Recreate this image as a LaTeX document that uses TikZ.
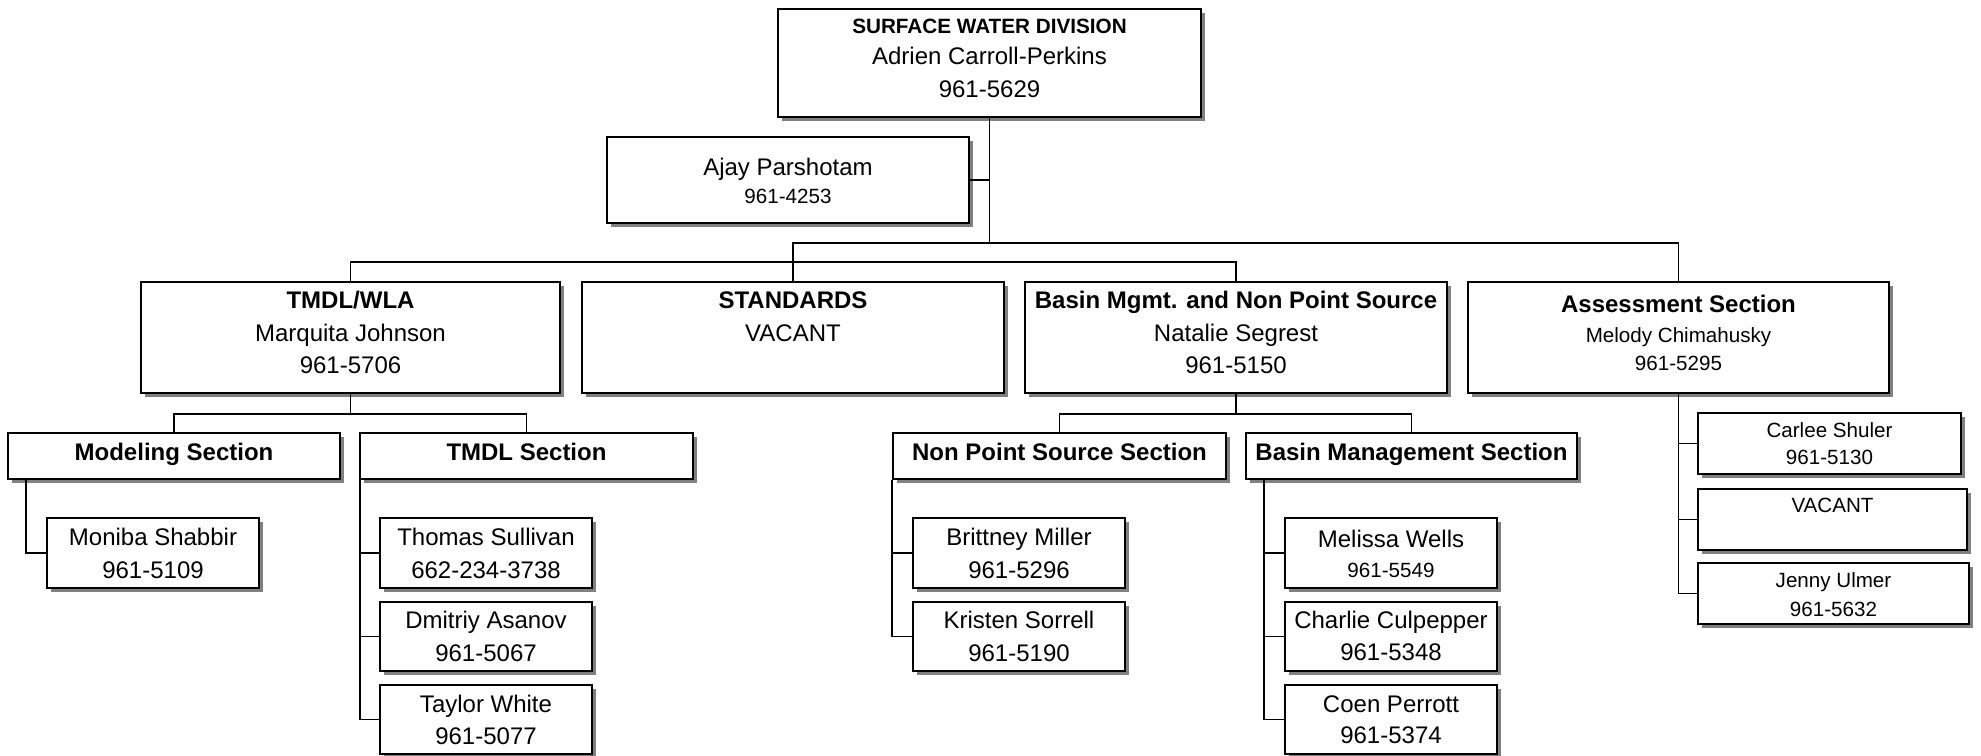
\documentclass[tikz,border=0pt]{standalone}
\usepackage{fontspec}
\setmainfont{Liberation Sans}
\usetikzlibrary{fit,shadows}
\definecolor{shadowgray}{HTML}{808080}
\tikzset{
  box/.style={draw=black, line width=0.85pt, fill=white, inner sep=0pt,
    drop shadow={shadow xshift=2pt, shadow yshift=-2pt, fill=shadowgray, opacity=1}},
  big/.style={anchor=base, inner sep=0pt, font=\fontsize{12}{14}\selectfont},
  bigb/.style={anchor=base, inner sep=0pt, font=\fontsize{12}{14}\selectfont\bfseries},
  small/.style={anchor=base, inner sep=0pt, font=\fontsize{10.3}{12}\selectfont},
  smallb/.style={anchor=base, inner sep=0pt, font=\fontsize{10.35}{12}\selectfont\bfseries},
  link/.style={draw=black, line width=0.85pt},
}
\newcommand\obox[5]{\node[box, fit={(#2,#3) (#4,#5)}] (#1) {};}
\newcommand\otxt[5]{\node[#2] (#1) at (#3,#4) {#5};}
\begin{document}
\begin{tikzpicture}[x=0.5pt, y=-0.5pt]
\useasboundingbox (0,0) rectangle (1981,755);

% ---------- boxes ----------
\obox{top}{778}{9}{1201}{117}
\obox{ajay}{607}{137}{969}{223}
\obox{tmdl}{141}{282}{560}{393}
\obox{std}{582}{282}{1004}{393}
\obox{basin}{1025}{282}{1447}{393}
\obox{assess}{1468}{282}{1889}{393}
\obox{model}{8}{433}{340}{479}
\obox{tmdlsec}{360}{433}{693}{479}
\obox{nps}{893}{433}{1226}{479}
\obox{bms}{1246}{433}{1577}{479}
\obox{moniba}{47}{518}{259}{588}
\obox{thomas}{380}{518}{592}{588}
\obox{dmitriy}{380}{602}{592}{671}
\obox{taylor}{380}{685}{592}{754}
\obox{brittney}{913}{518}{1125}{588}
\obox{kristen}{913}{602}{1125}{671}
\obox{melissa}{1285}{518}{1497}{588}
\obox{charlie}{1285}{602}{1497}{671}
\obox{coen}{1285}{685}{1497}{754}
\obox{carlee}{1698}{413}{1961}{474}
\obox{vacant}{1698}{489}{1967}{550}
\obox{jenny}{1698}{563}{1969}{624}

% ---------- texts ----------
\otxt{top1}{smallb}{989.5}{33}{SURFACE WATER DIVISION}
\otxt{top2}{big}{989.5}{64}{Adrien Carroll-Perkins}
\otxt{top3}{big}{989.5}{97}{961-5629}
\otxt{ajay1}{big}{788}{175}{Ajay Parshotam}
\otxt{ajay2}{small}{788}{203}{961-4253}
\otxt{tmdl1}{bigb}{350.5}{308}{TMDL/WLA}
\otxt{tmdl2}{big}{350.5}{341}{Marquita Johnson}
\otxt{tmdl3}{big}{350.5}{373}{961-5706}
\otxt{std1}{bigb}{793}{308}{STANDARDS}
\otxt{std2}{big}{793}{341}{VACANT}
\otxt{basin1}{bigb}{1236}{308}{Basin Mgmt. and Non Point Source}
\otxt{basin2}{big}{1236}{341}{Natalie Segrest}
\otxt{basin3}{big}{1236}{373}{961-5150}
\otxt{assess1}{bigb}{1678.5}{312}{Assessment Section}
\otxt{assess2}{small}{1678.5}{342}{Melody Chimahusky}
\otxt{assess3}{small}{1678.5}{370}{961-5295}
\otxt{model1}{bigb}{174}{460}{Modeling Section}
\otxt{tmdlsec1}{bigb}{526.5}{460}{TMDL Section}
\otxt{nps1}{bigb}{1059.5}{460}{Non Point Source Section}
\otxt{bms1}{bigb}{1411.5}{460}{Basin Management Section}
\otxt{moniba1}{big}{153}{545}{Moniba Shabbir}
\otxt{moniba2}{big}{153}{578}{961-5109}
\otxt{thomas1}{big}{486}{545}{Thomas Sullivan}
\otxt{thomas2}{big}{486}{578}{662-234-3738}
\otxt{dmitriy1}{big}{486}{628}{Dmitriy Asanov}
\otxt{dmitriy2}{big}{486}{661}{961-5067}
\otxt{taylor1}{big}{486}{712}{Taylor White}
\otxt{taylor2}{big}{486}{744}{961-5077}
\otxt{brittney1}{big}{1019}{545}{Brittney Miller}
\otxt{brittney2}{big}{1019}{578}{961-5296}
\otxt{kristen1}{big}{1019}{628}{Kristen Sorrell}
\otxt{kristen2}{big}{1019}{661}{961-5190}
\otxt{melissa1}{big}{1391}{547}{Melissa Wells}
\otxt{melissa2}{small}{1391}{577}{961-5549}
\otxt{charlie1}{big}{1391}{628}{Charlie Culpepper}
\otxt{charlie2}{big}{1391}{660}{961-5348}
\otxt{coen1}{big}{1391}{712}{Coen Perrott}
\otxt{coen2}{big}{1391}{743}{961-5374}
\otxt{carlee1}{small}{1829.5}{437}{Carlee Shuler}
\otxt{carlee2}{small}{1829.5}{464}{961-5130}
\otxt{vacant1}{small}{1832.5}{512}{VACANT}
\otxt{jenny1}{small}{1833.5}{587}{Jenny Ulmer}
\otxt{jenny2}{small}{1833.5}{616}{961-5632}

% ---------- connectors ----------
\coordinate (hubA) at (989,243);
\coordinate (hubB) at (989,262);
\draw[link] (top.south) -- (top.south |- hubA);
\draw[link] (ajay.east) -- (ajay.east -| top.south);
\draw[link] (std.north) -- (std.north |- hubA) -- (assess.north |- hubA) -- (assess.north);
\draw[link] (tmdl.north) -- (tmdl.north |- hubB) -- (basin.north |- hubB) -- (basin.north);

\draw[link] (tmdl.south) -- ++(0,20) -| (model.north);
\draw[link] (tmdl.south) -- ++(0,20) -| (tmdlsec.north);
\draw[link] (basin.south) -- ++(0,20) -| (nps.north);
\draw[link] (basin.south) -- ++(0,20) -| (bms.north);

\draw[link] ([xshift=9.5pt]model.south west) |- (moniba.west);
\draw[link] ([xshift=0.5pt]tmdlsec.south west) |- (thomas.west);
\draw[link] ([xshift=0.5pt]tmdlsec.south west) |- (dmitriy.west);
\draw[link] ([xshift=0.5pt]tmdlsec.south west) |- (taylor.west);
\draw[link] (nps.south west) |- (brittney.west);
\draw[link] (nps.south west) |- (kristen.west);
\draw[link] ([xshift=9.5pt]bms.south west) |- (melissa.west);
\draw[link] ([xshift=9.5pt]bms.south west) |- (charlie.west);
\draw[link] ([xshift=9.5pt]bms.south west) |- (coen.west);
\draw[link] (assess.south) |- (carlee.west);
\draw[link] (assess.south) |- (vacant.west);
\draw[link] (assess.south) |- (jenny.west);
\end{tikzpicture}
\end{document}
